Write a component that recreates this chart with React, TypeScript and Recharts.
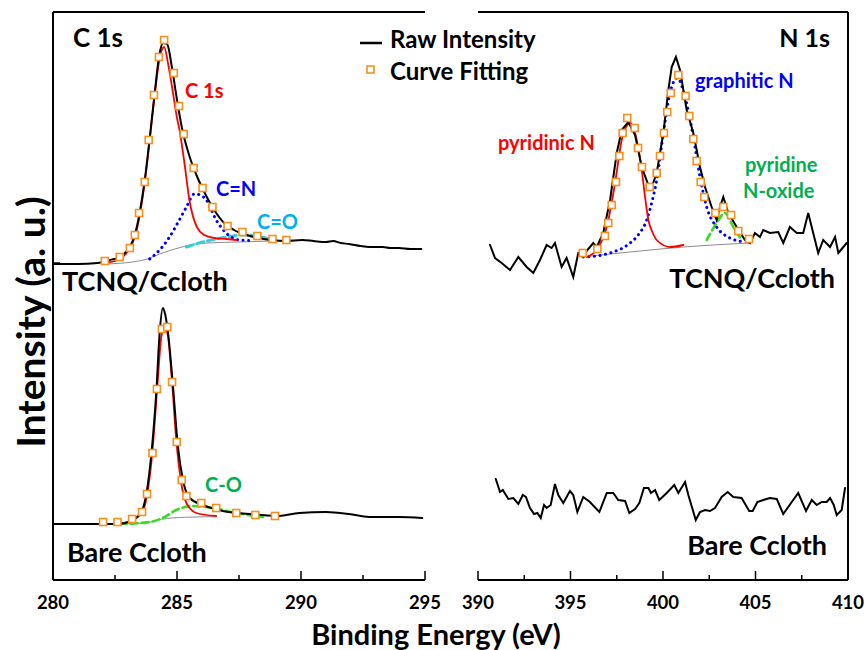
import { ComposedChart, Line, Scatter, XAxis, YAxis } from "recharts";

type Row = [number, number];
const pts = (rows: Row[]) => rows.map(([e, v]) => ({ e, v }));

// tick values (eV)
const C_TICKS = [280, 282.5, 285, 287.5, 290, 292.5, 295];
const C_MAJOR = [280, 285, 290, 295];
const N_TICKS = [390, 392.5, 395, 397.5, 400, 402.5, 405, 407.5, 410];
const N_MAJOR = [390, 395, 400, 405, 410];
const Y_MARK = [317];

// C 1s, TCNQ/Ccloth (upper trace)
const c1sTcnqRaw: Row[] = [
  [280.0, 316], [281.0, 316], [281.8, 317], [282.3, 320], [282.7, 323], [283.0, 330], [283.3, 345],
  [283.5, 368], [283.7, 400], [283.9, 442], [284.1, 487], [284.3, 527], [284.45, 537], [284.6, 536],
  [284.8, 512], [285.0, 480], [285.2, 452], [285.5, 424], [285.8, 404], [286.1, 388], [286.5, 370],
  [286.9, 357], [287.3, 350], [287.8, 345], [288.3, 342], [288.8, 340], [289.4, 339], [290.05, 340],
  [290.5, 339], [291.0, 338], [291.3, 339], [291.6, 337], [291.94, 336], [292.4, 334], [292.75, 333],
  [293.3, 333], [293.6, 332], [293.95, 332], [294.4, 331], [294.85, 331],
];
const c1sTcnqFit: Row[] = [
  [282.09, 319], [282.69, 323], [283.1, 332], [283.3, 345], [283.47, 367], [283.7, 398], [283.86, 440],
  [284.07, 485], [284.27, 523], [284.48, 540], [284.87, 507], [285.08, 474], [285.27, 446], [285.67, 412],
  [286.03, 392], [286.43, 373], [287.04, 354], [287.64, 348], [288.24, 344], [288.85, 341], [289.41, 340],
];
const c1sTcnqCC: Row[] = [
  [282.1, 317], [282.6, 320], [283.0, 328], [283.3, 343], [283.5, 365], [283.7, 398], [283.9, 440],
  [284.1, 485], [284.3, 522], [284.48, 533], [284.65, 515], [284.8, 493], [285.0, 462], [285.1, 450],
  [285.3, 417], [285.5, 380], [285.8, 353], [286.1, 345], [286.5, 342], [287.0, 341], [287.4, 340],
];
const c1sTcnqCN: Row[] = [
  [283.9, 321], [284.3, 330], [284.7, 343], [285.05, 358], [285.38, 373], [285.7, 386], [285.95, 385],
  [286.18, 380], [286.58, 360], [286.98, 347], [287.52, 340], [287.92, 339.5],
];
const c1sTcnqCO: Row[] = [
  [285.38, 333], [286.04, 338], [286.5, 340.5], [287.0, 343], [287.64, 345], [288.2, 344], [288.85, 340],
];
const c1sTcnqBase: Row[] = [
  [282.1, 316], [283.2, 318], [283.8, 321], [284.3, 326], [285.2, 333], [285.9, 336.5], [287.9, 338.3], [289.3, 339.3],
];

// C 1s, Bare Ccloth (lower trace)
const c1sBareRaw: Row[] = [
  [280.0, 56], [281.5, 56], [282.6, 56], [283.23, 60], [283.6, 70], [283.77, 87], [283.97, 127],
  [284.17, 190], [284.3, 247], [284.43, 272], [284.5, 268], [284.64, 247], [284.84, 193], [285.04, 133],
  [285.24, 100], [285.51, 82], [286.04, 75], [286.85, 69], [287.92, 66], [288.99, 64], [289.93, 67],
  [291.0, 68], [291.94, 66], [292.75, 63], [293.95, 63], [294.89, 62],
];
const c1sBareFit: Row[] = [
  [282.02, 58], [282.6, 58], [283.19, 61], [283.59, 68], [283.79, 86], [284.01, 127], [284.19, 191],
  [284.39, 251], [284.61, 253], [284.8, 198], [284.99, 138], [285.19, 100], [285.38, 84], [285.98, 77],
  [286.58, 72], [287.39, 67], [288.16, 65], [288.95, 64],
];
const c1sBareCC: Row[] = [
  [282.7, 56.5], [283.2, 60], [283.6, 68], [283.8, 86], [284.0, 126], [284.2, 191], [284.38, 245],
  [284.5, 252], [284.62, 246], [284.8, 198], [284.97, 140], [285.17, 97], [285.38, 77], [285.78, 67], [286.58, 64],
];
const c1sBareCO: Row[] = [
  [282.69, 56], [283.9, 58], [284.5, 63], [284.97, 70], [285.64, 74], [286.45, 72], [287.39, 67], [288.46, 63],
];
const c1sBareBase: Row[] = [[282.62, 56], [283.7, 57], [284.37, 60.7], [285.3, 62.7], [286.6, 63.3]];

// N 1s, TCNQ/Ccloth
const n1sTcnqRaw: Row[] = [
  [390.65, 335], [390.92, 322], [391.28, 317], [391.73, 310], [392.18, 323], [392.63, 313], [392.99, 307],
  [393.35, 320], [393.71, 335], [393.98, 332], [394.16, 337], [394.52, 313], [394.79, 322], [395.15, 303],
  [395.42, 327], [395.78, 327], [396.23, 337], [396.42, 333], [396.77, 347], [397.14, 380], [397.5, 427],
  [397.77, 450], [398.12, 458], [398.49, 445], [398.85, 413], [399.21, 395], [399.39, 393], [399.66, 407],
  [400.02, 447], [400.29, 490], [400.47, 513], [400.7, 523], [400.92, 510], [401.28, 470], [401.64, 447],
  [402.0, 413], [402.27, 393], [402.63, 373], [402.9, 360], [403.08, 373], [403.26, 383], [403.53, 367],
  [403.98, 353], [404.43, 340], [404.7, 337], [404.97, 347], [405.24, 343], [405.42, 350], [405.78, 347],
  [406.23, 348], [406.5, 337], [406.86, 353], [407.23, 347], [407.58, 347], [407.85, 367], [408.12, 347],
  [408.39, 327], [408.66, 340], [409.03, 333], [409.3, 343], [409.48, 327], [409.75, 333], [409.93, 337],
];
const n1sTcnqFit: Row[] = [
  [395.66, 327], [396.45, 331], [396.86, 344], [397.04, 357], [397.23, 375], [397.46, 398], [397.64, 424],
  [397.82, 447], [398.07, 462], [398.47, 452], [398.65, 432], [398.86, 413], [399.28, 393], [399.66, 407],
  [399.84, 424], [400.05, 447], [400.23, 468], [400.42, 487], [400.83, 505], [401.22, 484], [401.42, 464],
  [401.64, 441], [401.82, 419], [402.04, 398], [402.23, 383], [402.83, 367], [403.26, 373], [403.68, 365],
  [404.07, 349], [404.65, 341],
];
const n1sPyridinic: Row[] = [
  [395.88, 323], [396.4, 330], [396.96, 353], [397.41, 397], [397.77, 440], [398.0, 453], [398.22, 457],
  [398.58, 440], [398.85, 410], [399.05, 380], [399.21, 360], [399.45, 347], [399.66, 340], [400.38, 333], [401.1, 335],
];
const n1sGraphitic: Row[] = [
  [395.69, 323], [396.4, 324], [397.14, 327], [398.22, 337], [398.7, 346], [399.12, 360], [399.4, 378],
  [399.66, 400], [400.02, 447], [400.38, 487], [400.77, 502], [401.19, 483], [401.64, 443], [402.0, 403],
  [402.36, 373], [402.9, 353], [403.62, 342], [404.43, 338],
];
const n1sOxide: Row[] = [[402.36, 340], [402.9, 357], [403.35, 367], [403.8, 353], [404.25, 340]];
const n1sTcnqBase: Row[] = [[395.6, 323], [398.22, 328], [401.1, 333], [404.7, 337]];

// N 1s, Bare Ccloth
const n1sBareRaw: Row[] = [
  [390.96, 101], [391.19, 88], [391.34, 90], [391.64, 81], [391.91, 82], [392.18, 76], [392.42, 85],
  [392.59, 83], [392.81, 72], [393.03, 66], [393.21, 67], [393.39, 62], [393.57, 75], [393.71, 72],
  [393.93, 75], [394.16, 96], [394.34, 85], [394.61, 77], [394.97, 89], [395.15, 85], [395.37, 68],
  [395.69, 83], [396.05, 78], [396.56, 68], [396.96, 87], [397.31, 87], [397.58, 80], [397.95, 79],
  [398.18, 67], [398.49, 71], [398.72, 77], [398.97, 92], [399.21, 92], [399.35, 87], [399.57, 90],
  [399.8, 80], [400.2, 87], [400.61, 95], [400.83, 87], [401.19, 98], [401.37, 85], [401.77, 60],
  [402.0, 68], [402.27, 70], [402.54, 69], [402.81, 72], [403.17, 83], [403.5, 88], [403.8, 83],
  [404.25, 82], [404.66, 69], [404.85, 69], [405.1, 78], [405.42, 80], [405.78, 82], [406.15, 81],
  [406.5, 66], [406.96, 78], [407.31, 87], [407.73, 69], [408.04, 80], [408.31, 75], [408.58, 78],
  [408.85, 78], [409.03, 82], [409.23, 75], [409.39, 65], [409.66, 70], [409.84, 92],
];

const FONT = "Lato, 'Open Sans', sans-serif";
const RED = "#FF0000";
const BLUE = "#0000FF";
const ORANGE = "#F7901E";
const GRAY = "#8C8C8C";
const W = 866;
const H = 650;

function FitSquare(props: any) {
  const { cx, cy } = props;
  if (cx == null || cy == null) return null;
  return <rect x={cx - 3.5} y={cy - 3.5} width={7} height={7} fill="#FFFFFF" stroke={ORANGE} strokeWidth={1.6} />;
}

// inward tick marks; labels only on the whole 5 eV steps
function EnergyTick({ x, y, payload, majors }: any) {
  const major = majors.includes(payload.value);
  return (
    <g>
      <line x1={x} x2={x} y1={y} y2={y - (major ? 9 : 5)} stroke="#000" strokeWidth={1.5} />
      {major && (
        <text x={x} y={y + 29} textAnchor="middle" fontFamily={FONT} fontSize={18.5} fontWeight={700} fill="#000">
          {payload.value}
        </text>
      )}
    </g>
  );
}

function InwardYTick({ x, y }: any) {
  return <line x1={x} x2={x + 7} y1={y} y2={y} stroke="#000" strokeWidth={1.5} />;
}

const axisStroke = { stroke: "#000", strokeWidth: 2 };

function series(rows: Row[], color: string, opts: { width?: number; dash?: string; type?: "monotone" | "linear"; key: string }) {
  return (
    <Line
      key={opts.key}
      xAxisId="b"
      data={pts(rows)}
      dataKey="v"
      type={opts.type ?? "monotone"}
      stroke={color}
      strokeWidth={opts.width ?? 2}
      strokeDasharray={opts.dash}
      strokeLinecap="round"
      dot={false}
      activeDot={false}
      isAnimationActive={false}
    />
  );
}

function fits(rows: Row[], key: string) {
  return <Scatter key={key} xAxisId="b" data={pts(rows)} dataKey="v" shape={<FitSquare />} isAnimationActive={false} />;
}

function C1sPanel() {
  return (
    <ComposedChart width={W} height={H} margin={{ top: 11, right: 441, bottom: 30, left: 52 }}>
      <XAxis
        xAxisId="b" type="number" dataKey="e" domain={[280, 295]} ticks={C_TICKS} interval={0}
        height={40} tickSize={0} tickMargin={0} tickLine={false} axisLine={axisStroke}
        tick={(p: any) => <EnergyTick {...p} majors={C_MAJOR} />} allowDataOverflow
      />
      <XAxis xAxisId="t" orientation="top" type="number" dataKey="e" domain={[280, 295]} height={1} tick={false} tickLine={false} axisLine={axisStroke} />
      <YAxis
        type="number" dataKey="v" domain={[0, 568]} width={1} ticks={Y_MARK} interval={0}
        tickSize={0} tickMargin={0} tickLine={false} axisLine={axisStroke} tick={(p: any) => <InwardYTick {...p} />} allowDataOverflow
      />
      {series(c1sTcnqBase, GRAY, { width: 1, key: "tb" })}
      {series(c1sTcnqCO, "#33CCDD", { width: 3, dash: "7 4", key: "tco" })}
      {series(c1sTcnqCN, BLUE, { width: 3, dash: "0.1 5.5", key: "tcn" })}
      {series(c1sTcnqCC, RED, { width: 1.8, key: "tcc" })}
      {series(c1sTcnqRaw, "#000", { width: 2, key: "tr" })}
      {fits(c1sTcnqFit, "tf")}
      {series(c1sBareBase, GRAY, { width: 1, key: "bb" })}
      {series(c1sBareCO, "#33DD22", { width: 2.6, dash: "7 4", key: "bco" })}
      {series(c1sBareCC, RED, { width: 1.8, key: "bcc" })}
      {series(c1sBareRaw, "#000", { width: 2, key: "br" })}
      {fits(c1sBareFit, "bf")}
    </ComposedChart>
  );
}

function N1sPanel() {
  return (
    <ComposedChart width={W} height={H} margin={{ top: 11, right: 17, bottom: 30, left: 478 }}>
      <XAxis
        xAxisId="b" type="number" dataKey="e" domain={[390, 410]} ticks={N_TICKS} interval={0}
        height={40} tickSize={0} tickMargin={0} tickLine={false} axisLine={axisStroke}
        tick={(p: any) => <EnergyTick {...p} majors={N_MAJOR} />} allowDataOverflow
      />
      <XAxis xAxisId="t" orientation="top" type="number" dataKey="e" domain={[390, 410]} height={1} tick={false} tickLine={false} axisLine={axisStroke} />
      <YAxis orientation="right" type="number" dataKey="v" domain={[0, 568]} width={1} tick={false} tickLine={false} axisLine={axisStroke} allowDataOverflow />
      {series(n1sTcnqBase, GRAY, { width: 1, key: "tb" })}
      {series(n1sOxide, "#33DD22", { width: 2.6, dash: "7 4", key: "tox" })}
      {series(n1sGraphitic, BLUE, { width: 3, dash: "0.1 5.5", key: "tg" })}
      {series(n1sPyridinic, RED, { width: 1.8, key: "tp" })}
      {series(n1sTcnqRaw, "#000", { width: 2, type: "linear", key: "tr" })}
      {fits(n1sTcnqFit, "tf")}
      {series(n1sBareRaw, "#000", { width: 2, type: "linear", key: "br" })}
    </ComposedChart>
  );
}

const label = (fill: string, size: number) => ({ fill, fontSize: size, fontWeight: 700, fontFamily: FONT });

export default function App() {
  return (
    <div style={{ position: "absolute", left: 0, top: 0, width: W, height: H, background: "#fff" }}>
      <div style={{ position: "absolute", left: 0, top: 0 }}>
        <C1sPanel />
      </div>
      <div style={{ position: "absolute", left: 0, top: 0 }}>
        <N1sPanel />
      </div>
      <svg width={W} height={H} style={{ position: "absolute", left: 0, top: 0, pointerEvents: "none" }}>
        <text x={73} y={47} {...label("#000", 26)}>C 1s</text>
        <text x={830} y={47} textAnchor="end" {...label("#000", 25)}>N 1s</text>

        <line x1={360} x2={382} y1={43} y2={43} stroke="#000" strokeWidth={2.5} />
        <text x={390} y={48} {...label("#000", 24)}>Raw Intensity</text>
        <rect x={367} y={66} width={7} height={7} fill="#fff" stroke={ORANGE} strokeWidth={1.6} />
        <text x={390} y={80} {...label("#000", 24)}>Curve Fitting</text>

        <text x={185} y={98} {...label(RED, 20)}>C 1s</text>
        <text x={216} y={196} {...label(BLUE, 20)}>C=N</text>
        <text x={257} y={229} {...label("#00B0F0", 20)}>C=O</text>
        <text x={62} y={291} {...label("#000", 27)}>TCNQ/Ccloth</text>
        <text x={205} y={492} {...label("#00B050", 20)}>C-O</text>
        <text x={67} y={562} {...label("#000", 27)}>Bare Ccloth</text>

        <text x={498} y={150} {...label(RED, 20)}>pyridinic N</text>
        <text x={695} y={88} {...label(BLUE, 20)}>graphitic N</text>
        <text x={745} y={172} {...label("#00B050", 20)}>pyridine</text>
        <text x={743} y={198} {...label("#00B050", 20)}>N-oxide</text>
        <text x={835} y={288} textAnchor="end" {...label("#000", 27)}>TCNQ/Ccloth</text>
        <text x={827} y={555} textAnchor="end" {...label("#000", 27)}>Bare Ccloth</text>

        <text x={45} y={322} transform="rotate(-90 45 322)" textAnchor="middle" {...label("#000", 39)}>Intensity (a. u.)</text>
        <text x={436} y={645} textAnchor="middle" {...label("#000", 29)}>Binding Energy (eV)</text>
      </svg>
    </div>
  );
}
